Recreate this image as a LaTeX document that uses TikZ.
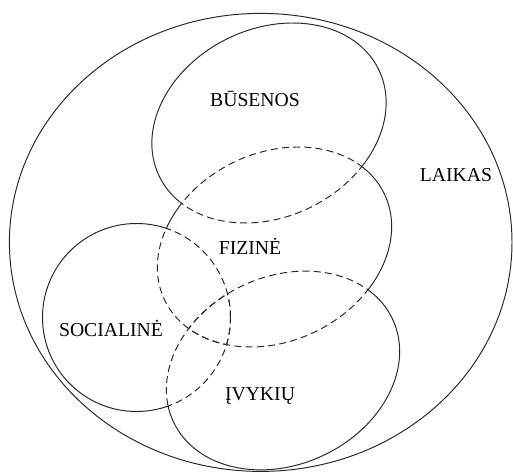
\documentclass[tikz,border=0pt]{standalone}
\usepackage{fontspec}
\setmainfont{Liberation Serif}
\newfontfamily\tagfont{Liberation Serif}

% the four inner ovals and the outside of the page
\newcommand{\busenos}{(269,350) ellipse [x radius=122, y radius=94, rotate=26]}
\newcommand{\fizine}{(274.5,226) ellipse [x radius=122, y radius=94, rotate=26]}
\newcommand{\ivykiu}{(283,102.5) ellipse [x radius=121, y radius=94, rotate=25]}
\newcommand{\socialine}{(136.5,155.5) circle [radius=94]}
\newcommand{\outside}{(-10,-10) -- (-10,483) -- (523,483) -- (523,-10) -- cycle}

\begin{document}
\begin{tikzpicture}[x=0.02cm, y=0.02cm,
     border/.style = {draw, black!85, line width=0.55pt},
     hidden/.style = {border, dash pattern=on 4pt off 2.4pt},
     tag/.style = {font=\tagfont\fontsize{11.2}{13}\selectfont, anchor=base, inner sep=0pt}
    ]
    \useasboundingbox (0,0) rectangle (513,473);

    \draw[border] (260.7,230.6) ellipse [x radius=251.3, y radius=229];

    % solid where no other oval covers the line
    \begin{scope}[even odd rule]
      \clip \outside \fizine;
      \clip \outside \ivykiu;
      \clip \outside \socialine;
      \draw[border] \busenos;
    \end{scope}
    \begin{scope}[even odd rule]
      \clip \outside \busenos;
      \clip \outside \ivykiu;
      \clip \outside \socialine;
      \draw[border] \fizine;
    \end{scope}
    \begin{scope}[even odd rule]
      \clip \outside \busenos;
      \clip \outside \fizine;
      \clip \outside \socialine;
      \draw[border] \ivykiu;
    \end{scope}
    \begin{scope}[even odd rule]
      \clip \outside \busenos;
      \clip \outside \fizine;
      \clip \outside \ivykiu;
      \draw[border] \socialine;
    \end{scope}

    % dashed inside the other ovals
    \foreach \other in {\fizine,\ivykiu,\socialine}
      {\begin{scope} \clip \other; \draw[hidden] \busenos; \end{scope}}
    \foreach \other in {\busenos,\ivykiu,\socialine}
      {\begin{scope} \clip \other; \draw[hidden] \fizine; \end{scope}}
    \foreach \other in {\busenos,\fizine,\socialine}
      {\begin{scope} \clip \other; \draw[hidden] \ivykiu; \end{scope}}
    \foreach \other in {\busenos,\fizine,\ivykiu}
      {\begin{scope} \clip \other; \draw[hidden] \socialine; \end{scope}}

    \node[tag] (busenos) at (255,366) {BŪSENOS};
    \node[tag] (fizine) at (250,218) {FIZINĖ};
    \node[tag] (socialine) at (111,136) {SOCIALINĖ};
    \node[tag] (ivykiu) at (260,73) {ĮVYKIŲ};
    \node[tag] (laikas) at (456,291) {LAIKAS};

\end{tikzpicture}
\end{document}
